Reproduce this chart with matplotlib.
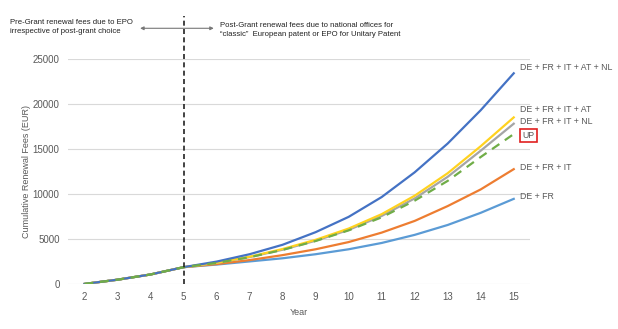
import matplotlib
matplotlib.use("Agg")
import matplotlib.pyplot as plt
from matplotlib.patches import FancyArrowPatch

plt.rcParams['font.family'] = ['Liberation Sans', 'DejaVu Sans']

years = [2, 3, 4, 5, 6, 7, 8, 9, 10, 11, 12, 13, 14, 15]

# cumulative renewal fees (EUR)
de_fr = [0, 470, 1050, 1860, 2150, 2500, 2850, 3300, 3850, 4550, 5450, 6550, 7900, 9450]
de_fr_it = [0, 470, 1050, 1860, 2200, 2650, 3200, 3850, 4650, 5700, 7000, 8650, 10500, 12750]
de_fr_it_nl = [0, 470, 1050, 1860, 2330, 2980, 3800, 4800, 6000, 7550, 9500, 11900, 14800, 17800]
de_fr_it_at = [0, 470, 1050, 1860, 2350, 3020, 3880, 4900, 6150, 7750, 9800, 12300, 15300, 18500]
de_fr_it_at_nl = [0, 470, 1050, 1860, 2480, 3300, 4350, 5750, 7450, 9650, 12400, 15600, 19300, 23400]
up = [0, 470, 1050, 1860, 2335, 2965, 3780, 4770, 5950, 7400, 9250, 11450, 14100, 16650]

series = [
    ("DE + FR", de_fr, "#5B9BD5", "-"),
    ("DE + FR + IT", de_fr_it, "#ED7D31", "-"),
    ("DE + FR + IT + NL", de_fr_it_nl, "#A5A5A5", "-"),
    ("DE + FR + IT + AT", de_fr_it_at, "#FFD21F", "-"),
    ("DE + FR + IT + AT + NL", de_fr_it_at_nl, "#4472C4", "-"),
    ("UP", up, "#70AD47", (0, (4, 3))),
]
label_y = {"DE + FR": 9700, "DE + FR + IT": 12900, "DE + FR + IT + NL": 18100,
           "DE + FR + IT + AT": 19350, "DE + FR + IT + AT + NL": 24000, "UP": 16500}

fig = plt.figure(figsize=(6.18, 3.29), dpi=100)
ax = fig.add_axes([0.110, 0.137, 0.748, 0.684])

for name, vals, col, ls in series:
    ax.plot(years, vals, color=col, linestyle=ls, linewidth=1.6)
    if name == "UP":
        ax.text(15.27, label_y[name], name, fontsize=6.3, color="#595959", va="center",
                bbox=dict(boxstyle="square,pad=0.25", fc="white", ec="#E02020", lw=1.2))
    else:
        ax.text(15.2, label_y[name], name, fontsize=6.3, color="#595959", va="center")

ax.set_xlim(1.5, 15.5)
ax.set_ylim(0, 25000)
ax.set_xticks(years)
ax.set_yticks(range(0, 25001, 5000))
ax.grid(axis="y", color="#D9D9D9", linewidth=0.8)
ax.set_axisbelow(True)
for s in ax.spines.values():
    s.set_visible(False)
ax.tick_params(length=0, labelsize=7, colors="#595959", pad=6)
ax.set_xlabel("Year", fontsize=6.5, color="#595959", labelpad=4)
ax.set_ylabel("Cumulative Renewal Fees (EUR)", fontsize=6.5, color="#595959", labelpad=1)

# divider between pre-grant and post-grant
ax.plot([5, 5], [0, 29800], color="#222222", linestyle=(0, (3, 2)), linewidth=1.2,
        clip_on=False)
arr = FancyArrowPatch((3.6, 28400), (6.0, 28400), arrowstyle="<|-|>", mutation_scale=5,
                      color="#777777", lw=0.8, clip_on=False)
ax.add_patch(arr)
fig.text(0.016, 0.918, "Pre-Grant renewal fees due to EPO\nirrespective of post-grant choice",
         fontsize=5.6, color="#222222", va="center", linespacing=1.4)
fig.text(0.356, 0.909, "Post-Grant renewal fees due to national offices for\n"
         "\u201cclassic\u201d  European patent or EPO for Unitary Patent",
         fontsize=5.6, color="#222222", va="center", linespacing=1.4)

fig.savefig("out.png", dpi=100)
